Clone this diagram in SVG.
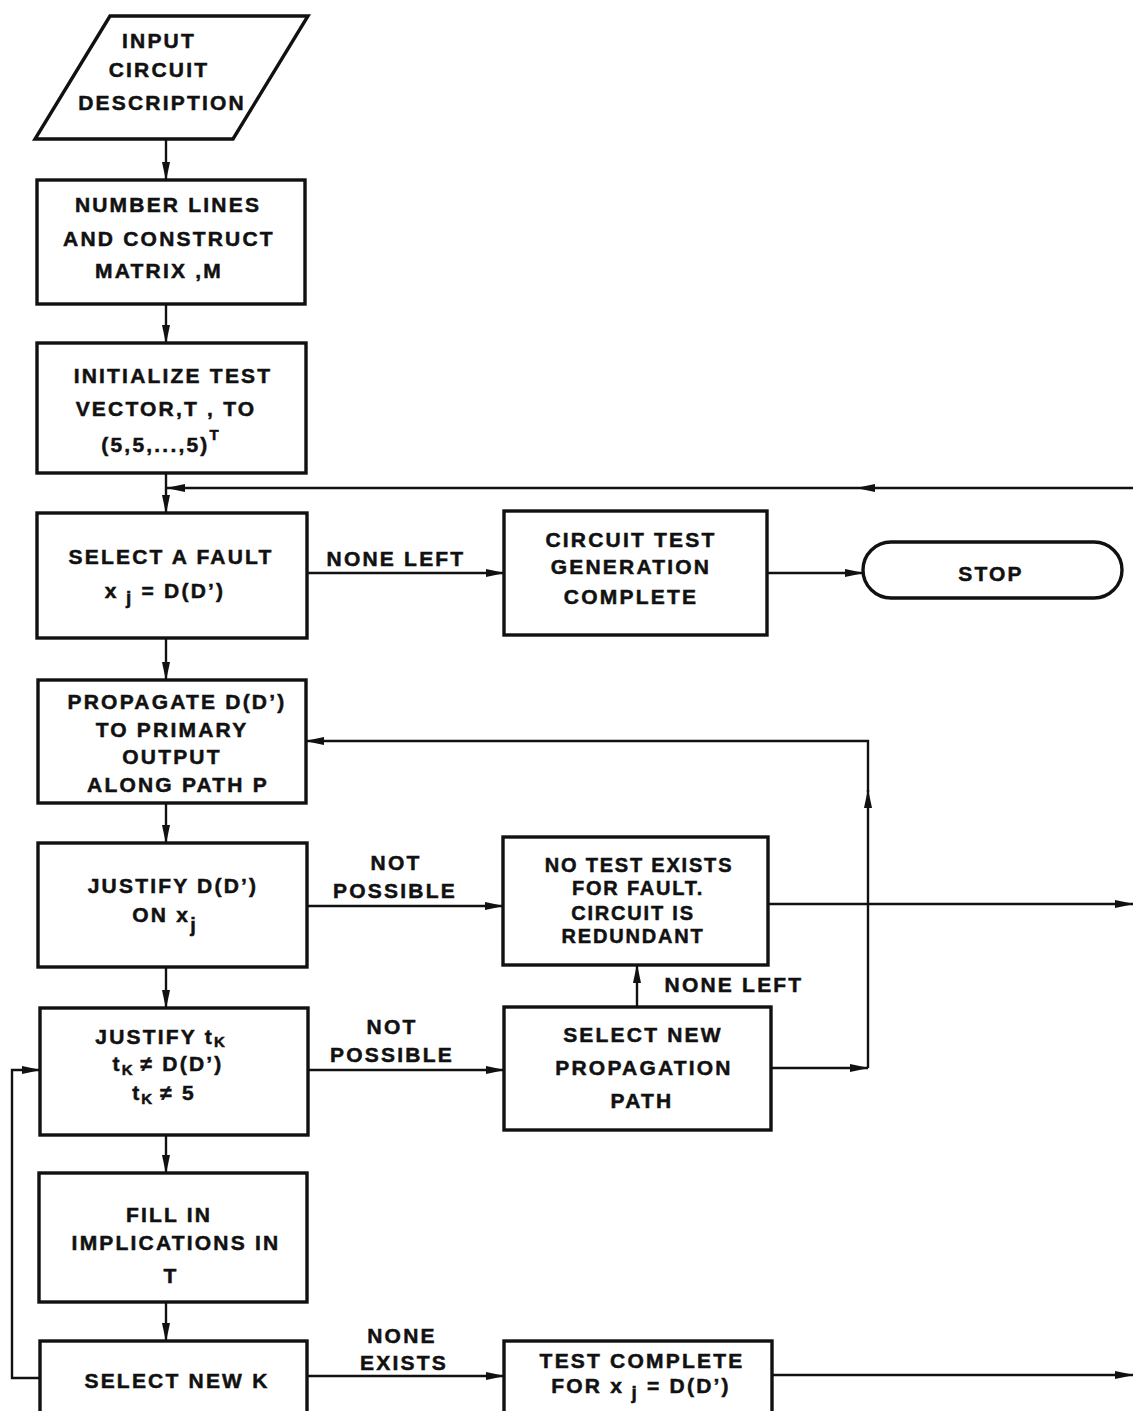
<svg xmlns="http://www.w3.org/2000/svg" width="1133" height="1411" viewBox="0 0 1133 1411">
<style>
.box{fill:#fff;stroke:#111;stroke-width:3.4}
.t{font-family:"Liberation Sans",Arial,sans-serif;font-weight:bold;font-size:21px;letter-spacing:2.2px;fill:#111;stroke:#111;stroke-width:0.5;text-anchor:middle}
.s{font-size:20px;letter-spacing:1.8px}
.c{fill:none;stroke:#111;stroke-width:2.4}
</style>
<defs>
<marker id="ah" markerUnits="userSpaceOnUse" markerWidth="19" markerHeight="10" refX="18" refY="5" orient="auto">
<path d="M0,1 L19,5 L0,9 z" fill="#111"/>
</marker>
</defs>
<rect width="1133" height="1411" fill="#fff"/>

<g id="connectors">
<path class="c" d="M166,139 V180" marker-end="url(#ah)"/>
<path class="c" d="M166,304 V343" marker-end="url(#ah)"/>
<path class="c" d="M166,473 V513" marker-end="url(#ah)"/>
<path class="c" d="M1133,488 H857" marker-end="url(#ah)"/>
<path class="c" d="M857,488 H167" marker-end="url(#ah)"/>
<path class="c" d="M166,638 V680" marker-end="url(#ah)"/>
<path class="c" d="M166,803 V843" marker-end="url(#ah)"/>
<path class="c" d="M166,967 V1008" marker-end="url(#ah)"/>
<path class="c" d="M166,1135 V1173" marker-end="url(#ah)"/>
<path class="c" d="M166,1302 V1341" marker-end="url(#ah)"/>
<path class="c" d="M307,573 H504" marker-end="url(#ah)"/>
<path class="c" d="M767,573 H863" marker-end="url(#ah)"/>
<path class="c" d="M307,906 H503" marker-end="url(#ah)"/>
<path class="c" d="M768,904 H1133" marker-end="url(#ah)"/>
<path class="c" d="M637,1007 V965" marker-end="url(#ah)"/>
<path class="c" d="M308,1070 H504" marker-end="url(#ah)"/>
<path class="c" d="M771,1068 H868" marker-end="url(#ah)"/>
<path class="c" d="M868,1068 V790" marker-end="url(#ah)"/>
<path class="c" d="M868,792 V741 H306" marker-end="url(#ah)"/>
<path class="c" d="M40,1378 H12 V1070 H40" marker-end="url(#ah)"/>
<path class="c" d="M307,1376 H504" marker-end="url(#ah)"/>
<path class="c" d="M772,1375 H1133" marker-end="url(#ah)"/>
<text class="t" x="396" y="566">NONE LEFT</text>
<text class="t" x="396" y="870">NOT</text>
<text class="t" x="395" y="898">POSSIBLE</text>
<text class="t" x="734" y="992">NONE LEFT</text>
<text class="t" x="392" y="1034">NOT</text>
<text class="t" x="392" y="1062">POSSIBLE</text>
<text class="t" x="402" y="1343">NONE</text>
<text class="t" x="404" y="1370">EXISTS</text>
</g>

<g id="input">
<polygon class="box" points="110,16 308,16 233,139 35,139"/>
<text class="t" x="159" y="48">INPUT</text>
<text class="t" x="159" y="77">CIRCUIT</text>
<text class="t" x="162" y="110">DESCRIPTION</text>
</g>

<g id="number-lines">
<rect class="box" x="37" y="180" width="268" height="124"/>
<text class="t" x="168" y="212">NUMBER LINES</text>
<text class="t" x="169" y="246">AND CONSTRUCT</text>
<text class="t" x="159" y="278">MATRIX ,M</text>
</g>

<g id="initialize">
<rect class="box" x="37" y="343" width="269" height="130"/>
<text class="t" x="173" y="383">INITIALIZE TEST</text>
<text class="t" x="166" y="416">VECTOR,T , TO</text>
<text class="t" x="160" y="452">(5,5,...,5)<tspan dy="-12" font-size="15" letter-spacing="0">T</tspan></text>
</g>

<g id="select-fault">
<rect class="box" x="37" y="513" width="270" height="125"/>
<text class="t" x="171" y="564">SELECT A FAULT</text>
<text class="t" x="165" y="598">x<tspan dy="6" font-size="19"> j</tspan><tspan dy="-6"> = D(D’)</tspan></text>
</g>

<g id="circuit-complete">
<rect class="box" x="504" y="511" width="263" height="124"/>
<text class="t" x="631" y="547">CIRCUIT TEST</text>
<text class="t" x="631" y="574">GENERATION</text>
<text class="t" x="631" y="604">COMPLETE</text>
</g>

<g id="stop">
<rect class="box" x="863" y="542" width="259" height="56" rx="28" ry="28"/>
<text class="t" x="991" y="581">STOP</text>
</g>

<g id="propagate">
<rect class="box" x="38" y="680" width="268" height="123"/>
<text class="t" x="177" y="709">PROPAGATE D(D’)</text>
<text class="t" x="172" y="737">TO PRIMARY</text>
<text class="t" x="172" y="764">OUTPUT</text>
<text class="t" x="178" y="792">ALONG PATH P</text>
</g>

<g id="justify-d">
<rect class="box" x="38" y="843" width="269" height="124"/>
<text class="t" x="173" y="893">JUSTIFY D(D’)</text>
<text class="t" x="164" y="922">ON x<tspan dy="10" font-size="20" letter-spacing="0">j</tspan></text>
</g>

<g id="no-test">
<rect class="box" x="503" y="837" width="265" height="128"/>
<text class="t s" x="639" y="872">NO TEST EXISTS</text>
<text class="t s" x="638" y="895">FOR FAULT.</text>
<text class="t s" x="633" y="920">CIRCUIT IS</text>
<text class="t s" x="633" y="943">REDUNDANT</text>
</g>

<g id="justify-tk">
<rect class="box" x="40" y="1008" width="268" height="127"/>
<text class="t" x="160" y="1044">JUSTIFY t<tspan dy="3" font-size="15" letter-spacing="0">K</tspan></text>
<text class="t" x="168" y="1071">t<tspan dy="4" font-size="15" letter-spacing="0">K</tspan><tspan dy="-4"> ≠ D(D’)</tspan></text>
<text class="t" x="164" y="1100">t<tspan dy="4" font-size="15" letter-spacing="0">K</tspan><tspan dy="-4"> ≠ 5</tspan></text>
</g>

<g id="select-path">
<rect class="box" x="504" y="1007" width="267" height="123"/>
<text class="t" x="643" y="1042">SELECT NEW</text>
<text class="t" x="644" y="1075">PROPAGATION</text>
<text class="t" x="642" y="1108">PATH</text>
</g>

<g id="fill-in">
<rect class="box" x="39" y="1173" width="268" height="129"/>
<text class="t" x="169" y="1222">FILL IN</text>
<text class="t" x="176" y="1250">IMPLICATIONS IN</text>
<text class="t" x="171" y="1283">T</text>
</g>

<g id="select-k">
<rect class="box" x="40" y="1341" width="267" height="90"/>
<text class="t" x="177" y="1388">SELECT NEW K</text>
</g>

<g id="test-complete">
<rect class="box" x="504" y="1341" width="268" height="90"/>
<text class="t" x="642" y="1368">TEST COMPLETE</text>
<text class="t" x="641" y="1393">FOR x<tspan dy="6" font-size="19"> j</tspan><tspan dy="-6"> = D(D’)</tspan></text>
</g>
</svg>
